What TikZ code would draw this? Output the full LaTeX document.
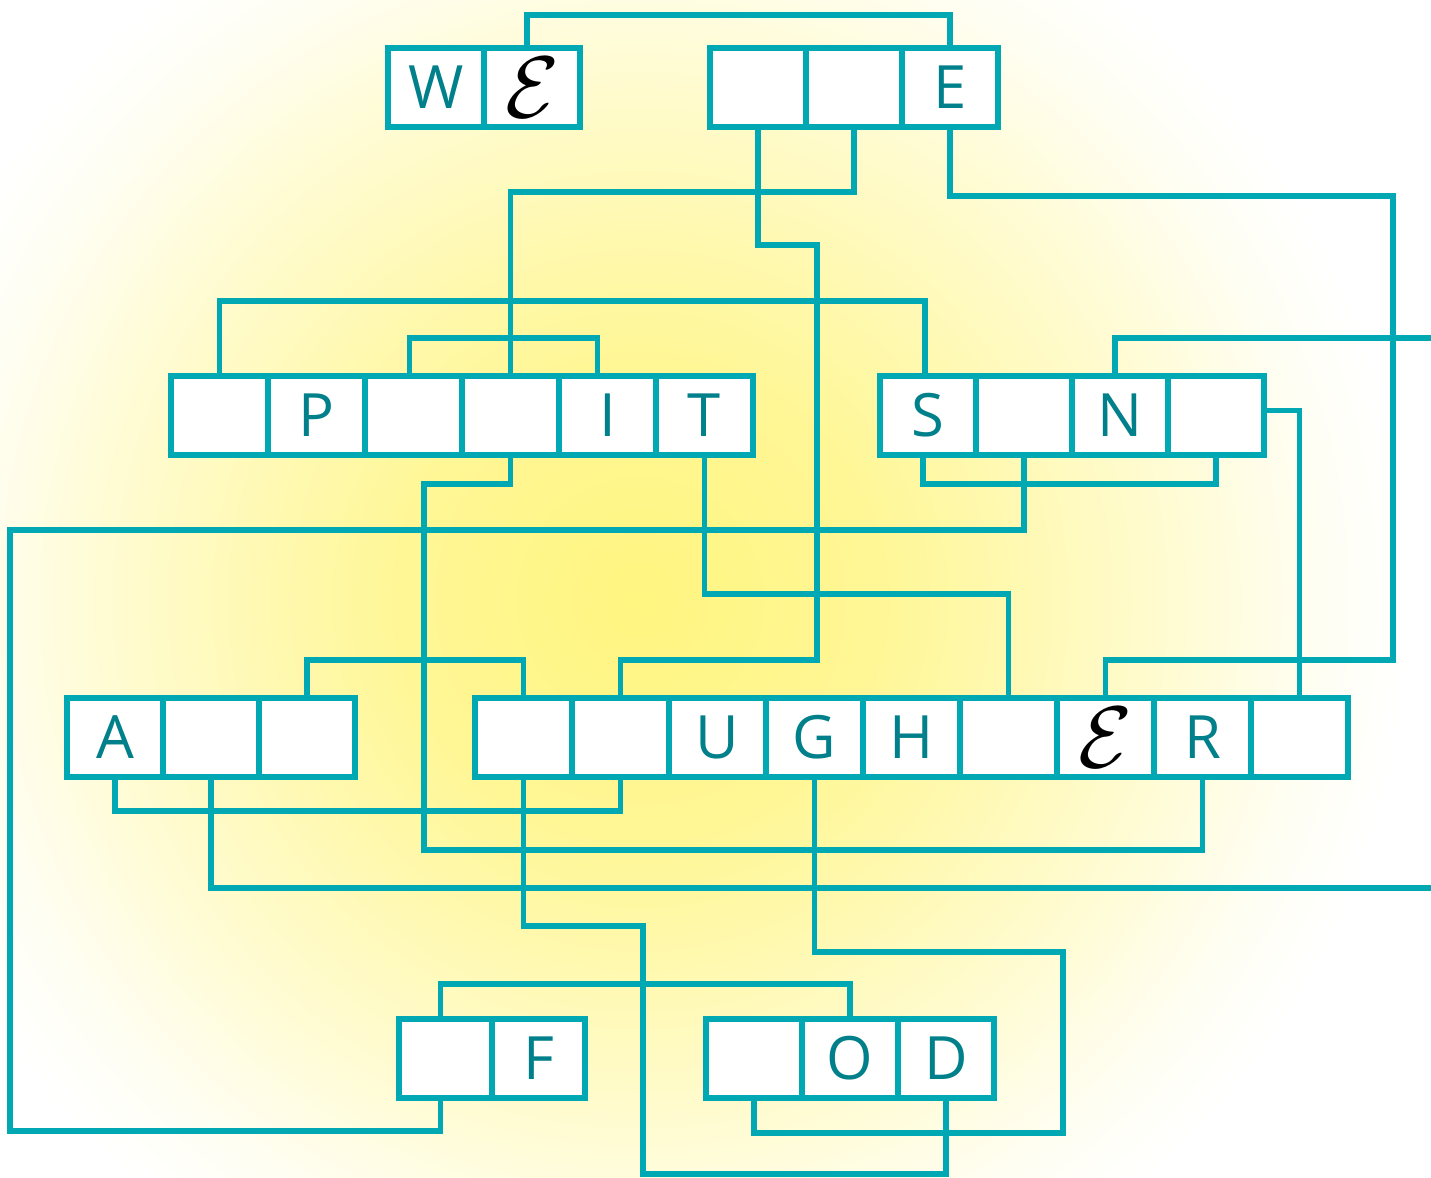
\documentclass[tikz,border=0pt]{standalone}
\usepackage{fontspec}
\setmainfont{Open Sans}
\usetikzlibrary{positioning}

\definecolor{wirecol}{RGB}{0,168,180}
\definecolor{lettercol}{RGB}{0,128,138}
\definecolor{glow}{RGB}{255,245,128}
\pgfdeclareradialshading{glowshade}{\pgfpointorigin}{color(0bp)=(glow); color(8bp)=(glow!82!white); color(16bp)=(glow!42!white); color(22bp)=(glow!10!white); color(25bp)=(white); color(50bp)=(white)}

\begin{document}
\begin{tikzpicture}[
  node distance=0pt,
  cell/.style={rectangle, draw=wirecol, fill=white, line width=1.6pt, minimum width=0.96cm, minimum height=0.79cm, inner sep=0pt, outer sep=0pt, text=lettercol, font=\fontsize{17}{17}\selectfont},
  wide/.style={cell, minimum width=0.97cm},
  narrow/.style={cell, minimum width=0.93cm},
  hand/.style={text=black, font=\fontsize{23}{23}\selectfont},
  wire/.style={draw=wirecol, line width=1.6pt}
]
% background glow
\useasboundingbox (0,0) rectangle (14.31,-11.78);
\begin{scope}
  \clip (0,0) rectangle (14.31,-11.78);
  \fill[white] (0,0) rectangle (14.31,-11.78);
  \shade[shading=glowshade] (6.4,-6.0) circle (7.7cm);
\end{scope}

% top row
\node[cell, anchor=north west] (w1) at (3.88,-0.48) {W};
\node[cell, hand, right=of w1] (w2) {$\mathcal{E}$};
\node[cell, anchor=north west] (e1) at (7.10,-0.48) {};
\node[cell, right=of e1] (e2) {};
\node[cell, right=of e2] (e3) {E};

% second row
\node[wide, anchor=north west] (p1) at (1.71,-3.76) {};
\node[wide, right=of p1] (p2) {P};
\node[wide, right=of p2] (p3) {};
\node[wide, right=of p3] (p4) {};
\node[wide, right=of p4] (p5) {I};
\node[wide, right=of p5] (p6) {T};
\node[cell, anchor=north west] (s1) at (8.80,-3.76) {S};
\node[cell, right=of s1] (s2) {};
\node[cell, right=of s2] (s3) {N};
\node[cell, right=of s3] (s4) {};

% third row
\node[cell, anchor=north west] (a1) at (0.67,-6.98) {A};
\node[cell, right=of a1] (a2) {};
\node[cell, right=of a2] (a3) {};
\node[wide, anchor=north west] (u1) at (4.75,-6.98) {};
\node[wide, right=of u1] (u2) {};
\node[wide, right=of u2] (u3) {U};
\node[wide, right=of u3] (u4) {G};
\node[wide, right=of u4] (u5) {H};
\node[wide, right=of u5] (u6) {};
\node[wide, hand, right=of u6] (u7) {$\mathcal{E}$};
\node[wide, right=of u7] (u8) {R};
\node[wide, right=of u8] (u9) {};

% bottom row
\node[narrow, anchor=north west] (f1) at (3.99,-10.19) {};
\node[narrow, right=of f1] (f2) {F};
\node[cell, anchor=north west] (o1) at (7.06,-10.19) {};
\node[cell, right=of o1] (o2) {O};
\node[cell, right=of o2] (o3) {D};

\coordinate (outN) at (14.31,-3.38);
\coordinate (outA) at (14.31,-8.88);

% wires
\draw[wire] ([xshift=-0.05cm]w2.north) -- ++(0,0.33) -| (e3.north);
\draw[wire] (e2.south) -- ++(0,-0.65) -| (p4.north);
\draw[wire] (e1.south) |- (8.17,-2.45) -- (8.17,-6.6) -| (u2.north);
\draw[wire] (e3.south) |- (13.93,-1.96) -- (13.93,-6.6) -| (u7.north);
\draw[wire] (p1.north) -- ++(0,0.75) -| ([xshift=-0.03cm]s1.north);
\draw[wire] ([xshift=-0.04cm]p3.north) -- ++(0,0.38) -| ([xshift=-0.1cm]p5.north);
\draw[wire] ([xshift=-0.05cm]s3.north) |- (outN);
\draw[wire] ([yshift=0.05cm]s4.east) -| (u9.north);
\draw[wire] ([xshift=-0.05cm]s1.south) -- ++(0,-0.29) -| (s4.south);
\draw[wire] (s2.south) |- (0.1,-5.3) -- (0.1,-11.31) -| ([xshift=-0.05cm]f1.south);
\draw[wire] (p4.south) |- (4.24,-4.84) -- (4.24,-8.5) -| (u8.south);
\draw[wire] (p6.south) -- ++(0,-1.39) -| (u6.north);
\draw[wire] (a3.north) -- ++(0,0.38) -| (u1.north);
\draw[wire] (a1.south) -- ++(0,-0.34) -| (u2.south);
\draw[wire] (a2.south) |- (outA);
\draw[wire] (u1.south) |- (6.43,-9.26) -- (6.43,-11.74) -| (o3.south);
\draw[wire] (u4.south) |- (10.63,-9.52) -- (10.63,-11.33) -| (o1.south);
\draw[wire] ([xshift=-0.05cm]f1.north) -- ++(0,0.35) -| (o2.north);
\end{tikzpicture}
\end{document}
